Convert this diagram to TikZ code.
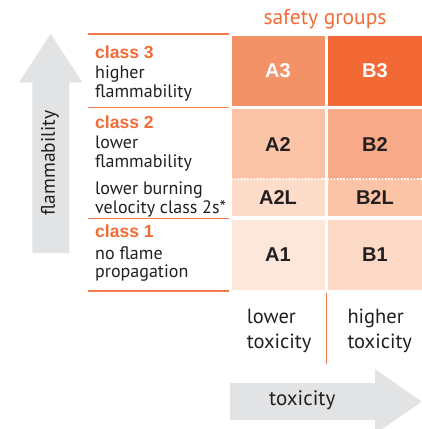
\documentclass[tikz,border=0pt]{standalone}
\usepackage{fontspec}
\setmainfont{PT Sans}
\newfontfamily\labelfont{Liberation Sans}
\usetikzlibrary{arrows.meta}

\definecolor{safeorange}{HTML}{F26A36}
\definecolor{lineorange}{HTML}{F47B4F}
\definecolor{arrowgray}{HTML}{E2E3E5}
\definecolor{textdark}{HTML}{231F20}
\definecolor{cellAthree}{HTML}{F49267}
\definecolor{cellBthree}{HTML}{F26935}
\definecolor{cellAtwo}{HTML}{FBC4A6}
\definecolor{cellBtwo}{HTML}{F8A987}
\definecolor{cellAtwoL}{HTML}{FDDCC9}
\definecolor{cellBtwoL}{HTML}{FBC4A6}
\definecolor{cellAone}{HTML}{FDE7DB}
\definecolor{cellBone}{HTML}{FCD9C5}

\tikzset{
  cell/.style={inner sep=0pt, text=textdark,
    font=\labelfont\bfseries\fontsize{20}{20}\selectfont},
  classname/.style={anchor=base west, inner sep=0pt, text=safeorange,
    font=\labelfont\bfseries\fontsize{17.5}{17.5}\selectfont},
  classtext/.style={anchor=base west, inner sep=0pt, align=left, text=textdark,
    font=\fontsize{18}{18.5}\selectfont},
  axistext/.style={anchor=base west, inner sep=0pt, align=left, text=textdark,
    font=\fontsize{20.5}{25}\selectfont},
  sepline/.style={draw=lineorange, line width=1.2pt},
}

\begin{document}
\begin{tikzpicture}[x=1pt, y=-1pt]
\useasboundingbox (0,0) rectangle (422,429);
% big gray arrows
\fill[arrowgray] (32.3,253) -- (32.3,82.3) -- (19,82.3) -- (50.7,34)
    -- (82.3,82.3) -- (69.3,82.3) -- (69.3,253) -- cycle;
\fill[arrowgray] (230,383) -- (375,383) -- (375,369) -- (421.7,401.7)
    -- (375,434) -- (375,420) -- (230,420) -- cycle;
\node[rotate=90, inner sep=0pt, text=textdark, font=\fontsize{19.5}{19.5}\selectfont]
    (flam) at (50,163) {flammability};
\node[anchor=base west, inner sep=0pt, text=textdark, font=\fontsize{21}{21}\selectfont]
    (tox) at (269,405) {toxicity};

% safety group cells
\begin{scope}
    \node[cell, fill=cellAthree, text=white, minimum width=93pt, minimum height=70.3pt] (a3) at (278,70.9) {A3};
    \node[cell, fill=cellBthree, text=white, minimum width=94.3pt, minimum height=70.3pt] (b3) at (374.9,70.9) {B3};
    \node[cell, fill=cellAtwo, minimum width=93pt, minimum height=69.7pt] (a2) at (278,144.2) {A2};
    \node[cell, fill=cellBtwo, minimum width=94.3pt, minimum height=69.7pt] (b2) at (374.9,144.2) {B2};
    \node[cell, fill=cellAtwoL, minimum width=93pt, minimum height=36.7pt] (a2l) at (278,197.4) {A2L};
    \node[cell, fill=cellBtwoL, minimum width=94.3pt, minimum height=36.7pt] (b2l) at (374.9,197.4) {B2L};
    \node[cell, fill=cellAone, minimum width=93pt, minimum height=70pt] (a1) at (278,255) {A1};
    \node[cell, fill=cellBone, minimum width=94.3pt, minimum height=70pt] (b1) at (374.9,255) {B1};

    \draw[white, line width=1.6pt, dash pattern=on 1.6pt off 1.6pt] (a2l.north west) -- (b2l.north east);
\end{scope}

\node[anchor=base, inner sep=0pt, text=safeorange, font=\fontsize{21.5}{21.5}\selectfont]
    (groups) at (325,24) {safety groups};

% flammability classes
\begin{scope}
    \draw[sepline] (88,34) -- (229,34);
    \draw[sepline] (88,107.7) -- (229,107.7);
    \draw[sepline] (88,218.3) -- (229,218.3);
    \draw[sepline] (88,291) -- (229,291);

    \node[classname] (c3) at (95,58.3) {class 3};
    \node[classtext] (t3) at (95,97.3) {higher\\flammability};
    \node[classname] (c2) at (95,128.3) {class 2};
    \node[classtext] (t2) at (95,167.3) {lower\\flammability};
    \node[classtext] (t2s) at (95,213.3) {lower burning\\velocity class 2s*};
    \node[classname] (c1) at (95,237.7) {class 1};
    \node[classtext] (t1) at (95,277.7) {no flame\\propagation};
\end{scope}

% toxicity columns
\draw[sepline] (326.3,293) -- (326.3,364);
\node[axistext] (low) at (246.7,348.3) {lower\\toxicity};
\node[axistext] (high) at (347.3,348.3) {higher\\toxicity};
\end{tikzpicture}
\end{document}
